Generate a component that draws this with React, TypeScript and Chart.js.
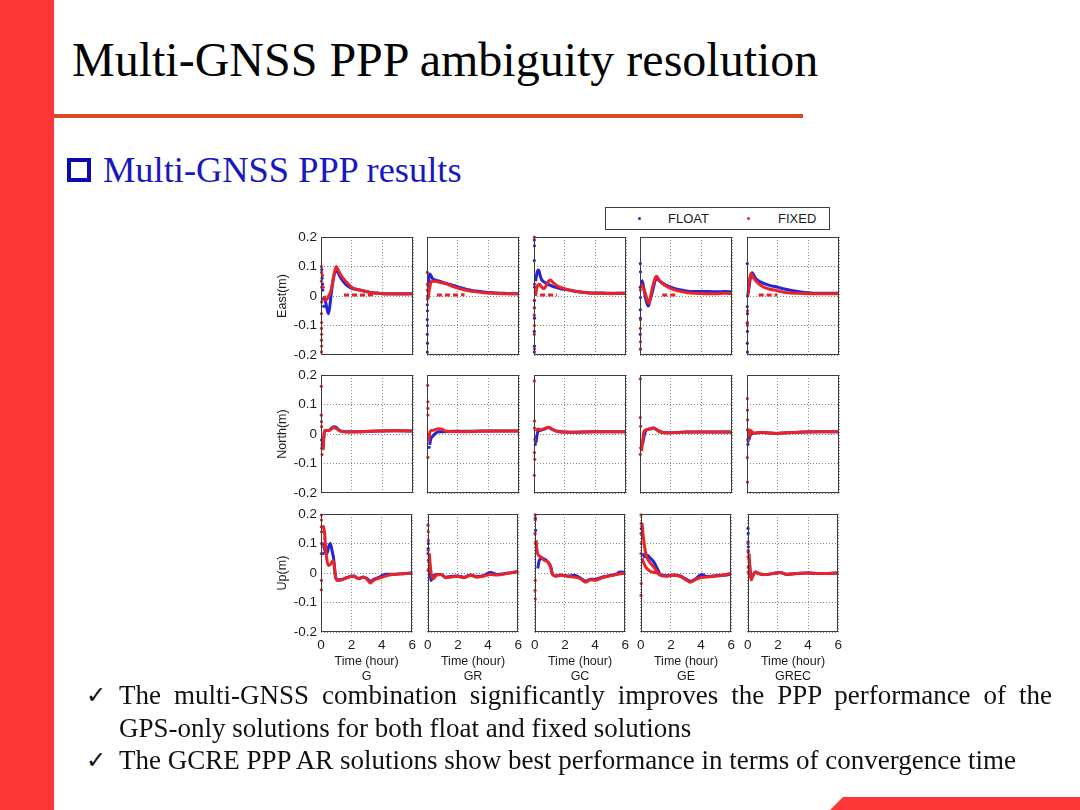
import React, { useEffect, useRef } from 'react';
import { Chart, registerables } from 'chart.js';

Chart.register(...registerables);

type Pt = [number, number];

// ---- labels -------------------------------------------------------------
const SYSTEMS = ['G', 'GR', 'GC', 'GE', 'GREC'];
const COMPONENTS = ['East(m)', 'North(m)', 'Up(m)'];
const X_TITLE = 'Time (hour)';
const X_TICKS = [0, 2, 4, 6];
const Y_TICKS = [-0.2, -0.1, 0, 0.1, 0.2];
const Y_TICK_LABELS = ['-0.2', '-0.1', '0', '0.1', '0.2'];
const LEGEND_LABELS = ['FLOAT', 'FIXED'];

// ---- East (m): [time in hours, error in metres] -------------------------
const E_G_FLOAT0: Pt[] = [[0.05, 0.09], [0.07, 0.06], [0.1, 0.04], [0.12, 0.02], [0.15, -0.01], [0.18, -0.035]];
const E_G_FLOAT: Pt[] = [[0.2, 0.0], [0.3, -0.02], [0.4, -0.045], [0.48, -0.06], [0.56, -0.04], [0.65, 0.0], [0.75, 0.04], [0.85, 0.07], [0.95, 0.085], [1.1, 0.08], [1.3, 0.06], [1.6, 0.04], [2.0, 0.026], [2.4, 0.022], [2.8, 0.017], [3.2, 0.012], [3.6, 0.01], [4.0, 0.008], [4.5, 0.008], [5.0, 0.008], [5.5, 0.008], [6.0, 0.008]];
const E_G_FIXED0: Pt[] = [[0.03, 0.1], [0.04, 0.08], [0.03, 0.05], [0.05, 0.03], [0.04, -0.02], [0.03, -0.06], [0.04, -0.09], [0.03, -0.11], [0.04, -0.13], [0.03, -0.15], [0.04, -0.17], [0.03, -0.19], [0.1, 0.07], [0.14, 0.03]];
const E_G_FIXED: Pt[] = [[0.2, 0.0], [0.3, -0.015], [0.4, -0.01], [0.5, 0.0], [0.6, 0.01], [0.7, 0.03], [0.8, 0.06], [0.9, 0.085], [1.0, 0.1], [1.1, 0.09], [1.25, 0.075], [1.45, 0.06], [1.7, 0.045], [2.0, 0.03], [2.4, 0.022], [2.8, 0.017], [3.2, 0.012], [3.6, 0.01], [4.0, 0.008], [4.5, 0.007], [5.0, 0.007], [5.5, 0.007], [6.0, 0.008]];
const E_G_FIXED2: Pt[] = [[1.5, 0.003], [3.6, 0.004]];

const E_GR_FLOAT0: Pt[] = [[0.02, -0.19], [0.03, -0.16], [0.02, -0.13], [0.03, -0.1], [0.02, -0.08], [0.03, -0.05], [0.02, -0.03], [0.04, 0.0]];
const E_GR_FLOAT: Pt[] = [[0.08, 0.03], [0.12, 0.06], [0.18, 0.075], [0.25, 0.07], [0.35, 0.06], [0.5, 0.055], [0.8, 0.05], [1.1, 0.045], [1.4, 0.04], [1.8, 0.035], [2.2, 0.028], [2.6, 0.022], [3.0, 0.018], [3.5, 0.015], [4.0, 0.012], [4.5, 0.01], [5.0, 0.009], [5.5, 0.008], [6.0, 0.008]];
const E_GR_FIXED0: Pt[] = [[0.02, 0.08], [0.03, 0.04], [0.02, 0.02], [0.03, -0.01]];
const E_GR_FIXED: Pt[] = [[0.06, -0.01], [0.1, 0.0], [0.15, 0.02], [0.22, 0.04], [0.3, 0.05], [0.45, 0.05], [0.7, 0.048], [1.0, 0.045], [1.3, 0.04], [1.6, 0.034], [2.0, 0.027], [2.4, 0.021], [2.8, 0.017], [3.2, 0.014], [3.6, 0.012], [4.0, 0.01], [4.5, 0.009], [5.0, 0.008], [5.5, 0.008], [6.0, 0.008]];
const E_GR_FIXED2: Pt[] = [[0.65, 0.003], [2.45, 0.004]];

const E_GC_FLOAT0: Pt[] = [[0.02, 0.19], [0.03, 0.17], [0.02, 0.12], [0.04, 0.03], [0.03, -0.015], [0.02, -0.04], [0.03, -0.075], [0.02, -0.12], [0.03, -0.17], [0.02, -0.19]];
const E_GC_FLOAT: Pt[] = [[0.1, 0.05], [0.2, 0.08], [0.3, 0.088], [0.4, 0.07], [0.5, 0.055], [0.65, 0.048], [0.9, 0.04], [1.3, 0.031], [1.8, 0.024], [2.3, 0.02], [2.8, 0.015], [3.3, 0.012], [4.0, 0.01], [4.5, 0.01], [5.0, 0.009], [5.5, 0.009], [6.0, 0.009]];
const E_GC_FIXED0: Pt[] = [[0.02, 0.2], [0.03, 0.04], [0.02, -0.015], [0.03, -0.04], [0.02, -0.065], [0.03, -0.1], [0.02, -0.13], [0.03, -0.18]];
const E_GC_FIXED: Pt[] = [[0.1, 0.0], [0.2, 0.03], [0.35, 0.04], [0.5, 0.03], [0.65, 0.025], [0.8, 0.035], [0.95, 0.05], [1.07, 0.054], [1.25, 0.045], [1.5, 0.035], [1.8, 0.028], [2.3, 0.02], [2.8, 0.015], [3.3, 0.012], [4.0, 0.009], [4.5, 0.009], [5.0, 0.008], [5.5, 0.009], [6.0, 0.009]];
const E_GC_FIXED2: Pt[] = [[0.4, 0.003], [1.5, 0.003]];

const E_GE_FLOAT0: Pt[] = [[0.02, 0.11], [0.03, 0.082], [0.02, 0.03], [0.03, -0.005], [0.02, -0.047], [0.03, -0.075], [0.02, -0.13], [0.03, -0.18]];
const E_GE_FLOAT: Pt[] = [[0.1, 0.055], [0.2, 0.04], [0.3, 0.01], [0.42, -0.02], [0.55, -0.034], [0.65, -0.015], [0.8, 0.012], [0.95, 0.045], [1.07, 0.06], [1.3, 0.05], [1.6, 0.04], [2.0, 0.03], [2.5, 0.022], [3.0, 0.017], [3.5, 0.015], [4.0, 0.015], [4.5, 0.015], [5.0, 0.014], [5.5, 0.015], [6.0, 0.014]];
const E_GE_FIXED0: Pt[] = [[0.02, 0.02], [0.03, -0.08], [0.02, -0.11], [0.03, -0.155], [0.02, -0.18]];
const E_GE_FIXED: Pt[] = [[0.05, 0.03], [0.1, 0.037], [0.26, 0.022], [0.4, 0.0], [0.5, -0.018], [0.58, -0.025], [0.7, 0.0], [0.8, 0.026], [0.95, 0.055], [1.07, 0.067], [1.2, 0.058], [1.35, 0.048], [1.8, 0.031], [2.4, 0.018], [3.1, 0.011], [3.6, 0.009], [4.2, 0.008], [5.0, 0.008], [5.5, 0.009], [6.0, 0.008]];
const E_GE_FIXED2: Pt[] = [[1.45, 0.003], [2.45, 0.003]];

const E_GREC_FLOAT0: Pt[] = [[0.02, 0.11], [0.03, 0.0], [0.02, -0.036], [0.03, -0.06], [0.02, -0.092], [0.03, -0.12], [0.02, -0.16], [0.03, -0.19]];
const E_GREC_FLOAT: Pt[] = [[0.08, 0.01], [0.17, 0.043], [0.25, 0.07], [0.33, 0.079], [0.55, 0.06], [0.87, 0.048], [1.42, 0.037], [1.97, 0.03], [2.6, 0.022], [3.3, 0.015], [4.15, 0.01], [5.0, 0.009], [5.5, 0.009], [6.0, 0.009]];
const E_GREC_FIXED0: Pt[] = [[0.03, -0.05], [0.02, -0.09], [0.03, -0.1]];
const E_GREC_FIXED: Pt[] = [[0.06, 0.0], [0.1, 0.026], [0.18, 0.06], [0.26, 0.076], [0.44, 0.06], [0.87, 0.037], [1.3, 0.026], [1.97, 0.018], [2.6, 0.011], [3.3, 0.009], [4.0, 0.008], [5.0, 0.008], [6.0, 0.008]];
const E_GREC_FIXED2: Pt[] = [[0.76, 0.003], [1.97, 0.003]];

// ---- North (m) ------------------------------------------------------------
const N_G_FLOAT0: Pt[] = [[0.04, -0.02], [0.07, -0.037]];
const N_G_FLOAT: Pt[] = [[0.12, -0.05], [0.17, -0.02], [0.22, 0.005], [0.33, 0.012], [0.5, 0.012], [0.72, 0.021], [0.87, 0.025], [1.05, 0.02], [1.27, 0.01], [1.7, 0.008], [2.6, 0.008], [3.7, 0.01], [4.8, 0.011], [6.0, 0.01]];
const N_G_FIXED0: Pt[] = [[0.02, 0.162], [0.02, 0.064], [0.03, 0.042], [0.04, 0.025], [0.05, -0.048], [0.07, -0.07]];
const N_G_FIXED: Pt[] = [[0.13, -0.055], [0.17, -0.02], [0.22, 0.008], [0.33, 0.013], [0.5, 0.011], [0.72, 0.019], [0.87, 0.021], [1.05, 0.017], [1.27, 0.01], [1.7, 0.007], [2.6, 0.008], [3.2, 0.009], [3.7, 0.01], [4.3, 0.011], [4.8, 0.011], [5.4, 0.011], [6.0, 0.01]];

const N_GR_FLOAT0: Pt[] = [[0.09, -0.015], [0.13, -0.045]];
const N_GR_FLOAT: Pt[] = [[0.17, -0.037], [0.26, -0.015], [0.39, -0.007], [0.55, 0.002], [0.76, 0.008], [1.1, 0.008], [1.6, 0.009], [2.5, 0.009], [3.5, 0.01], [4.5, 0.01], [5.5, 0.01], [6.0, 0.01]];
const N_GR_FIXED0: Pt[] = [[0.04, 0.165], [0.06, 0.109], [0.06, 0.087], [0.06, 0.064], [0.06, -0.079]];
const N_GR_FIXED: Pt[] = [[0.11, -0.026], [0.17, 0.002], [0.26, 0.011], [0.44, 0.013], [0.76, 0.018], [0.98, 0.016], [1.3, 0.009], [2.2, 0.008], [3.3, 0.009], [4.4, 0.01], [5.2, 0.01], [6.0, 0.01]];

const N_GC_FLOAT0: Pt[] = [[0.09, -0.035], [0.13, -0.013]];
const N_GC_FLOAT: Pt[] = [[0.13, -0.03], [0.2, -0.002], [0.3, 0.011], [0.45, 0.013], [0.68, 0.017], [0.96, 0.022], [1.18, 0.016], [1.5, 0.009], [2.4, 0.006], [3.9, 0.008], [6.0, 0.008]];
const N_GC_FIXED0: Pt[] = [[0.02, 0.18], [0.03, 0.044], [0.03, 0.02], [0.05, -0.019], [0.03, -0.063], [0.05, -0.086], [0.02, -0.14]];
const N_GC_FIXED: Pt[] = [[0.13, 0.009], [0.24, 0.017], [0.41, 0.014], [0.68, 0.018], [0.96, 0.023], [1.18, 0.017], [1.5, 0.009], [2.4, 0.006], [3.2, 0.007], [3.9, 0.008], [5.0, 0.008], [6.0, 0.008]];

const N_GE_FLOAT0: Pt[] = [[0.1, -0.035]];
const N_GE_FLOAT: Pt[] = [[0.17, -0.035], [0.26, -0.008], [0.39, 0.012], [0.66, 0.017], [0.87, 0.02], [1.1, 0.014], [1.5, 0.005], [1.97, 0.004], [3.05, 0.007], [6.0, 0.007]];
const N_GE_FIXED0: Pt[] = [[0.02, 0.187], [0.02, 0.056], [0.04, 0.026], [0.04, -0.047], [0.02, -0.069]];
const N_GE_FIXED: Pt[] = [[0.11, -0.058], [0.17, -0.024], [0.26, 0.009], [0.39, 0.014], [0.66, 0.018], [0.87, 0.02], [1.1, 0.014], [1.3, 0.007], [1.97, 0.004], [3.05, 0.007], [4.5, 0.007], [6.0, 0.007]];

const N_GREC_FLOAT0: Pt[] = [[0.06, -0.035], [0.08, -0.024]];
const N_GREC_FLOAT: Pt[] = [[0.13, -0.019], [0.24, -0.002], [0.5, 0.003], [1.0, 0.005], [1.9, 0.002], [2.6, 0.004], [3.7, 0.007], [4.8, 0.008], [6.0, 0.008]];
const N_GREC_FIXED0: Pt[] = [[0.02, 0.12], [0.03, 0.081], [0.04, 0.048], [0.03, 0.014], [0.05, -0.019], [0.02, -0.08], [0.03, -0.163]];
const N_GREC_FIXED: Pt[] = [[0.13, 0.018], [0.17, -0.008], [0.28, 0.011], [0.39, 0.003], [0.61, 0.003], [0.94, 0.006], [1.5, 0.003], [1.9, 0.002], [2.6, 0.004], [3.7, 0.007], [4.8, 0.008], [6.0, 0.008]];

// ---- Up (m) ---------------------------------------------------------------
const U_G_FLOAT0: Pt[] = [[0.09, 0.1], [0.13, 0.066]];
const U_G_FLOAT: Pt[] = [[0.17, 0.1], [0.28, 0.072], [0.39, 0.066], [0.5, 0.089], [0.61, 0.1], [0.72, 0.077], [0.83, 0.049], [0.96, -0.014], [1.09, -0.023], [1.38, -0.022], [1.7, -0.015], [2.14, -0.01], [2.47, -0.018], [2.8, -0.013], [3.06, -0.02], [3.25, -0.028], [3.45, -0.022], [3.9, -0.012], [4.1, -0.006], [4.3, -0.004], [4.76, -0.004], [5.4, -0.002], [6.0, 0.0]];
const U_G_FIXED0: Pt[] = [[0.02, 0.197], [0.03, 0.18], [0.02, 0.157], [0.04, 0.14], [0.03, 0.1], [0.02, 0.066], [0.03, -0.025], [0.02, -0.057], [0.17, 0.089], [0.24, 0.117]];
const U_G_FIXED: Pt[] = [[0.13, 0.162], [0.24, 0.134], [0.3, 0.089], [0.39, 0.043], [0.5, 0.026], [0.66, 0.032], [0.79, 0.043], [0.87, 0.026], [0.96, -0.014], [1.09, -0.025], [1.38, -0.023], [1.7, -0.016], [2.14, -0.011], [2.47, -0.019], [2.8, -0.014], [3.06, -0.023], [3.23, -0.034], [3.45, -0.025], [3.9, -0.016], [4.3, -0.009], [4.76, -0.005], [5.4, -0.002], [6.0, 0.0]];

const U_GR_FLOAT0: Pt[] = [[0.04, 0.1], [0.03, 0.083], [0.02, 0.066]];
const U_GR_FLOAT: Pt[] = [[0.13, 0.032], [0.22, -0.025], [0.33, -0.014], [0.55, -0.005], [0.87, -0.005], [1.2, -0.014], [1.53, -0.012], [1.97, -0.01], [2.4, -0.014], [2.84, -0.007], [3.28, -0.012], [3.7, -0.009], [4.15, 0.002], [4.6, -0.005], [5.24, -0.001], [6.0, 0.005]];
const U_GR_FIXED0: Pt[] = [[0.02, 0.162], [0.03, 0.14], [0.04, 0.11], [0.03, 0.077], [0.04, 0.043], [0.03, 0.009]];
const U_GR_FIXED: Pt[] = [[0.11, 0.066], [0.17, 0.02], [0.26, -0.008], [0.39, -0.019], [0.55, -0.008], [0.87, -0.005], [1.2, -0.016], [1.53, -0.014], [1.97, -0.011], [2.4, -0.016], [2.84, -0.008], [3.28, -0.014], [3.7, -0.011], [4.15, -0.005], [4.6, -0.007], [5.24, -0.002], [6.0, 0.005]];

const U_GC_FLOAT0: Pt[] = [[0.04, 0.185], [0.06, 0.145]];
const U_GC_FLOAT: Pt[] = [[0.2, 0.015], [0.3, 0.043], [0.52, 0.049], [0.85, 0.038], [1.07, 0.02], [1.18, -0.005], [1.4, -0.01], [1.72, -0.007], [2.16, -0.01], [2.6, -0.008], [3.03, -0.017], [3.36, -0.028], [3.7, -0.021], [4.0, -0.022], [4.45, -0.014], [4.9, -0.009], [5.44, -0.003], [5.65, 0.003], [6.0, 0.002]];
const U_GC_FIXED0: Pt[] = [[0.02, 0.197], [0.03, 0.18], [0.02, 0.134], [0.04, 0.1], [0.03, -0.025], [0.02, -0.059], [0.03, -0.088]];
const U_GC_FIXED: Pt[] = [[0.09, 0.111], [0.15, 0.077], [0.24, 0.06], [0.41, 0.055], [0.63, 0.043], [0.85, 0.038], [1.03, 0.023], [1.18, -0.005], [1.4, -0.011], [1.72, -0.008], [2.16, -0.011], [2.6, -0.014], [3.03, -0.019], [3.36, -0.031], [3.7, -0.023], [4.0, -0.025], [4.45, -0.016], [4.9, -0.011], [5.44, -0.005], [6.0, 0.0]];

const U_GE_FLOAT0: Pt[] = [[0.04, 0.15]];
const U_GE_FLOAT: Pt[] = [[0.13, 0.066], [0.26, 0.055], [0.44, 0.06], [0.66, 0.049], [0.87, 0.037], [1.1, 0.015], [1.3, -0.005], [1.75, -0.009], [2.18, -0.007], [2.6, -0.01], [3.05, -0.022], [3.28, -0.028], [3.6, -0.021], [4.04, -0.005], [4.37, -0.012], [4.8, -0.01], [5.24, -0.008], [5.7, -0.007], [6.0, -0.002]];
const U_GE_FIXED0: Pt[] = [[0.02, 0.197], [0.03, 0.168], [0.02, 0.134], [0.03, 0.1], [0.02, 0.066], [0.03, -0.036], [0.02, -0.076]];
const U_GE_FIXED: Pt[] = [[0.08, 0.17], [0.17, 0.123], [0.33, 0.066], [0.44, 0.049], [0.66, 0.032], [0.87, 0.02], [1.1, 0.003], [1.3, -0.008], [1.75, -0.011], [2.18, -0.008], [2.6, -0.011], [3.05, -0.025], [3.28, -0.031], [3.6, -0.023], [3.93, -0.016], [4.37, -0.014], [4.8, -0.011], [5.24, -0.009], [6.0, -0.002]];
const U_GE_FIXED2: Pt[] = [[0.1, 0.05], [0.17, 0.037], [0.33, 0.02], [0.55, 0.009], [0.76, 0.003], [1.1, 0.0], [1.3, -0.006]];

const U_GREC_FLOAT0: Pt[] = [[0.02, 0.151], [0.03, 0.134], [0.02, 0.106], [0.04, 0.089], [0.03, 0.072]];
const U_GREC_FLOAT: Pt[] = [[0.09, 0.049], [0.17, 0.003], [0.24, -0.011], [0.33, -0.009], [0.5, 0.003], [0.72, -0.002], [1.05, -0.005], [1.7, -0.002], [2.14, 0.002], [2.58, -0.004], [3.23, -0.002], [3.9, 0.0], [4.76, -0.002], [6.0, 0.0]];
const U_GREC_FIXED0: Pt[] = [[0.02, 0.1], [0.03, 0.077], [0.02, 0.055], [0.03, 0.02], [0.02, 0.003]];
const U_GREC_FIXED: Pt[] = [[0.09, 0.066], [0.13, 0.026], [0.17, -0.008], [0.24, -0.023], [0.33, -0.011], [0.5, 0.003], [0.72, -0.002], [1.05, -0.005], [1.7, -0.002], [2.14, 0.002], [2.58, -0.005], [3.23, -0.002], [3.9, 0.0], [4.76, -0.002], [6.0, 0.0]];

// ---- panel table (row = component, column = constellation) ------------------
type PanelData = { float: Pt[]; float0: Pt[]; fixed: Pt[]; fixed0: Pt[]; fixed2: Pt[] };
const P = (float: Pt[], float0: Pt[], fixed: Pt[], fixed0: Pt[], fixed2: Pt[] = []): PanelData => ({ float, float0, fixed, fixed0, fixed2 });

const PANELS: PanelData[][] = [
  [
    P(E_G_FLOAT, E_G_FLOAT0, E_G_FIXED, E_G_FIXED0, E_G_FIXED2),
    P(E_GR_FLOAT, E_GR_FLOAT0, E_GR_FIXED, E_GR_FIXED0, E_GR_FIXED2),
    P(E_GC_FLOAT, E_GC_FLOAT0, E_GC_FIXED, E_GC_FIXED0, E_GC_FIXED2),
    P(E_GE_FLOAT, E_GE_FLOAT0, E_GE_FIXED, E_GE_FIXED0, E_GE_FIXED2),
    P(E_GREC_FLOAT, E_GREC_FLOAT0, E_GREC_FIXED, E_GREC_FIXED0, E_GREC_FIXED2),
  ],
  [
    P(N_G_FLOAT, N_G_FLOAT0, N_G_FIXED, N_G_FIXED0),
    P(N_GR_FLOAT, N_GR_FLOAT0, N_GR_FIXED, N_GR_FIXED0),
    P(N_GC_FLOAT, N_GC_FLOAT0, N_GC_FIXED, N_GC_FIXED0),
    P(N_GE_FLOAT, N_GE_FLOAT0, N_GE_FIXED, N_GE_FIXED0),
    P(N_GREC_FLOAT, N_GREC_FLOAT0, N_GREC_FIXED, N_GREC_FIXED0),
  ],
  [
    P(U_G_FLOAT, U_G_FLOAT0, U_G_FIXED, U_G_FIXED0),
    P(U_GR_FLOAT, U_GR_FLOAT0, U_GR_FIXED, U_GR_FIXED0),
    P(U_GC_FLOAT, U_GC_FLOAT0, U_GC_FIXED, U_GC_FIXED0),
    P(U_GE_FLOAT, U_GE_FLOAT0, U_GE_FIXED, U_GE_FIXED0, U_GE_FIXED2),
    P(U_GREC_FLOAT, U_GREC_FLOAT0, U_GREC_FIXED, U_GREC_FIXED0),
  ],
];

// ---- look ------------------------------------------------------------------
const BLUE = '#2424d8';
const RED = '#ea2328';
const SLIDE_RED = '#fd3737';
const SANS = "'Liberation Sans', Arial, sans-serif";
const TICK_FONT = { family: SANS, size: 13.5, lineHeight: 1.2 };
const TITLE_FONT = { family: SANS, size: 12.5, lineHeight: 1.2 };
const TEXT_COLOR = '#1c1c1c';
const SERIF = "'Liberation Serif', 'Times New Roman', serif";

const PLOT_LEFT = [321, 427, 534, 640, 747];
const PLOT_TOP = [237, 375, 514];
const PLOT_W = 92;
const PLOT_H = 118;

const toXY = (pts: Pt[]) => pts.map(([x, y]) => ({ x, y }));

// solid box around each plot area
const framePlugin = {
  id: 'frame',
  afterDraw(chart: any) {
    const { ctx, chartArea: a } = chart;
    ctx.save();
    ctx.strokeStyle = '#3c3c3c';
    ctx.lineWidth = 1;
    ctx.strokeRect(Math.round(a.left) + 0.5, Math.round(a.top) + 0.5, Math.round(a.right - a.left) - 1, Math.round(a.bottom - a.top) - 1);
    ctx.restore();
  },
};

function Panel({ row, col }: { row: number; col: number }) {
  const ref = useRef<HTMLCanvasElement>(null);
  const isLeft = col === 0;
  const isBottom = row === PANELS.length - 1;
  const padL = isLeft ? 50 : 8;
  const padR = 8;
  const padT = 12;
  const padB = isBottom ? 56 : 12;
  const w = PLOT_W + padL + padR;
  const h = PLOT_H + padT + padB;

  useEffect(() => {
    const d = PANELS[row][col];
    const track = (pts: Pt[], color: string, order: number, dash: number[] = []) => ({
      data: toXY(pts),
      showLine: true,
      borderColor: color,
      backgroundColor: color,
      borderWidth: 3,
      borderDash: dash,
      pointRadius: 0,
      cubicInterpolationMode: 'monotone' as const,
      order,
      clip: 2,
    });
    const dots = (pts: Pt[], color: string, order: number) => ({
      data: toXY(pts),
      showLine: false,
      backgroundColor: color,
      borderColor: color,
      pointRadius: 1.6,
      pointBorderWidth: 0,
      order,
      clip: 3,
    });
    const datasets: any[] = [
      { label: LEGEND_LABELS[1], ...track(d.fixed, RED, 0) },
      { label: LEGEND_LABELS[1], ...dots(d.fixed0, RED, 0) },
      { label: LEGEND_LABELS[1], ...track(d.fixed2, RED, 0, row === 0 ? [5, 3] : []) },
      { label: LEGEND_LABELS[0], ...track(d.float, BLUE, 1) },
      { label: LEGEND_LABELS[0], ...dots(d.float0, BLUE, 1) },
    ];

    const chart = new Chart(ref.current as HTMLCanvasElement, {
      type: 'scatter',
      data: { datasets },
      options: {
        responsive: false,
        animation: false,
        events: [],
        layout: { padding: { top: padT, right: padR, left: 0, bottom: 0 } },
        plugins: { legend: { display: false }, tooltip: { enabled: false } },
        scales: {
          x: {
            type: 'linear',
            min: X_TICKS[0],
            max: X_TICKS[X_TICKS.length - 1],
            afterBuildTicks: (axis: any) => { axis.ticks = X_TICKS.map((v) => ({ value: v })); },
            afterFit: (axis: any) => { axis.height = padB; },
            ticks: { display: isBottom, font: TICK_FONT, color: TEXT_COLOR, padding: 5, maxRotation: 0, autoSkip: false, callback: (v: any) => String(v) },
            grid: { color: '#8a8a8a', lineWidth: 1, drawTicks: false },
            border: { display: false, dash: [1, 2] },
            title: { display: isBottom, text: [X_TITLE, SYSTEMS[col]], font: TITLE_FONT, color: TEXT_COLOR, padding: { top: 0, bottom: 4 } },
          },
          y: {
            type: 'linear',
            min: Y_TICKS[0],
            max: Y_TICKS[Y_TICKS.length - 1],
            afterBuildTicks: (axis: any) => { axis.ticks = Y_TICKS.map((v) => ({ value: v })); },
            afterFit: (axis: any) => { axis.width = padL; },
            ticks: { display: isLeft, font: TICK_FONT, color: TEXT_COLOR, padding: 4, autoSkip: false, callback: (_v: any, i: number) => Y_TICK_LABELS[i] },
            grid: { color: '#8a8a8a', lineWidth: 1, drawTicks: false },
            border: { display: false, dash: [1, 2] },
            title: { display: isLeft, text: COMPONENTS[row], font: TITLE_FONT, color: TEXT_COLOR, padding: { top: 4, bottom: 0 } },
          },
        },
      } as any,
      plugins: [framePlugin],
    });
    return () => chart.destroy();
  }, []);

  return (
    <canvas
      ref={ref}
      width={w}
      height={h}
      style={{ position: 'absolute', left: PLOT_LEFT[col] - padL, top: PLOT_TOP[row] - padT, width: w, height: h }}
    />
  );
}

const BULLETS = [
  'The multi-GNSS combination significantly improves the PPP performance of the',
  'GPS-only solutions for both float and fixed solutions',
  'The GCRE PPP AR solutions show best performance in terms of convergence time',
];
const BULLET_CHECKED = [true, false, true];
const BULLET_JUSTIFIED = [true, false, false];

export default function App() {
  const abs = (s: React.CSSProperties): React.CSSProperties => ({ position: 'absolute', ...s });
  return (
    <div style={{ position: 'fixed', left: 0, top: 0, width: 1080, height: 810, background: '#ffffff', overflow: 'hidden' }}>
      <div style={abs({ left: 0, top: 0, width: 54, height: 810, background: SLIDE_RED })} />

      <div style={abs({ left: 72, top: 36, fontFamily: SERIF, fontSize: 48, lineHeight: '48px', color: '#050505', whiteSpace: 'nowrap' })}>
        Multi-GNSS PPP ambiguity resolution
      </div>
      <div style={abs({ left: 54, top: 114, width: 749, height: 4, background: '#d94a22' })} />

      <div style={abs({ left: 67, top: 158, width: 16, height: 16, border: '4px solid #0b0bb0' })} />
      <div style={abs({ left: 103, top: 152, fontFamily: SERIF, fontSize: 36.4, lineHeight: '36px', color: '#1818c0', whiteSpace: 'nowrap' })}>
        Multi-GNSS PPP results
      </div>

      {/* legend */}
      <div style={abs({ left: 605, top: 207, width: 223, height: 21, border: '1px solid #3c3c3c', background: '#fff' })}>
        <div style={abs({ left: 32, top: 9, width: 3, height: 3, borderRadius: 2, background: BLUE })} />
        <div style={abs({ left: 62, top: 2, fontFamily: SANS, fontSize: 13, lineHeight: '17px', color: TEXT_COLOR })}>{LEGEND_LABELS[0]}</div>
        <div style={abs({ left: 141, top: 9, width: 3, height: 3, borderRadius: 2, background: RED })} />
        <div style={abs({ left: 172, top: 2, fontFamily: SANS, fontSize: 13, lineHeight: '17px', color: TEXT_COLOR })}>{LEGEND_LABELS[1]}</div>
      </div>

      {PANELS.map((r, ri) => r.map((_, ci) => <Panel key={`${ri}-${ci}`} row={ri} col={ci} />))}

      {BULLETS.map((text, i) => (
        <React.Fragment key={i}>
          {BULLET_CHECKED[i] && (
            <div style={abs({ left: 86, top: 681 + i * 32.5, fontFamily: "'DejaVu Sans', sans-serif", fontSize: 24, lineHeight: '28px', color: '#111' })}>✓</div>
          )}
          <div
            style={abs({
              left: 119,
              top: 682 + i * 32.5,
              width: 933,
              fontFamily: SERIF,
              fontSize: 27,
              lineHeight: '27px',
              color: '#111',
              whiteSpace: BULLET_JUSTIFIED[i] ? 'normal' : 'nowrap',
              textAlign: BULLET_JUSTIFIED[i] ? 'justify' : 'left',
              textAlignLast: BULLET_JUSTIFIED[i] ? 'justify' : 'auto',
            } as React.CSSProperties)}
          >
            {text}
          </div>
        </React.Fragment>
      ))}

      <div style={abs({ left: 830, top: 797, width: 250, height: 13, background: SLIDE_RED, clipPath: 'polygon(13px 0, 100% 0, 100% 100%, 0 100%)' })} />
    </div>
  );
}
